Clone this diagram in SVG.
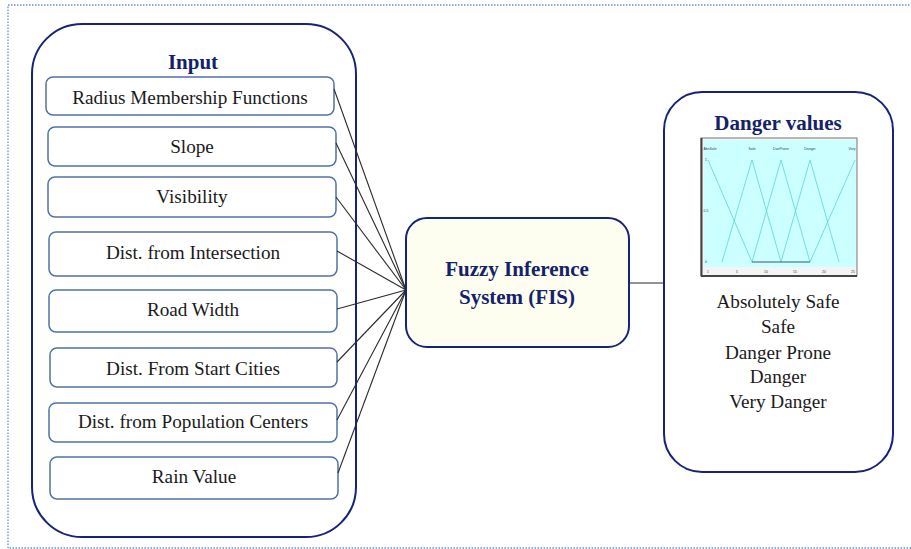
<svg xmlns="http://www.w3.org/2000/svg" width="911" height="549" viewBox="0 0 911 549">
<style>
.frame{fill:none;stroke:#6f8fcc;stroke-width:1.3;stroke-dasharray:1.5 1.5}
.cont{fill:#fff;stroke:#17237a;stroke-width:2}
.box{fill:#fff;stroke:#4f72a8;stroke-width:1.5}
.lbl{font-family:"Liberation Serif","Times New Roman",serif;font-size:19.2px;fill:#1a1a1a;text-anchor:middle}
.ttl{font-family:"Liberation Serif","Times New Roman",serif;font-size:21px;font-weight:bold;fill:#14216b;text-anchor:middle}
.conn{stroke:#2a2a2a;stroke-width:1.1;fill:none}
.mf{stroke:#5fd3d3;stroke-width:0.8;fill:none}
.tiny{font-family:"Liberation Sans",Arial,sans-serif;font-size:3.5px;fill:#444;text-anchor:middle}
</style>
<rect x="0" y="0" width="911" height="549" fill="#fff"/>
<rect class="frame" x="8" y="5" width="912" height="543"/>

<g id="input">
<rect class="cont" x="32" y="24" width="324" height="513" rx="50"/>
<text class="ttl" x="193" y="69">Input</text>
</g>

<g id="radius"><rect class="box" x="46" y="77" width="288" height="38" rx="7"/><text class="lbl" x="190" y="104">Radius Membership Functions</text></g>
<g id="slope"><rect class="box" x="48" y="127" width="288" height="39" rx="7"/><text class="lbl" x="192" y="153">Slope</text></g>
<g id="visibility"><rect class="box" x="48" y="177" width="288" height="40" rx="7"/><text class="lbl" x="192" y="203">Visibility</text></g>
<g id="intersection"><rect class="box" x="49" y="232" width="288" height="44" rx="7"/><text class="lbl" x="193" y="259">Dist. from Intersection</text></g>
<g id="roadwidth"><rect class="box" x="49" y="290" width="288" height="42" rx="7"/><text class="lbl" x="193" y="316">Road Width</text></g>
<g id="startcities"><rect class="box" x="50" y="348" width="287" height="39" rx="7"/><text class="lbl" x="193" y="375">Dist. From Start Cities</text></g>
<g id="population"><rect class="box" x="49" y="403" width="288" height="39" rx="7"/><text class="lbl" x="193" y="428">Dist. from Population Centers</text></g>
<g id="rain"><rect class="box" x="50" y="457" width="288" height="42" rx="7"/><text class="lbl" x="194" y="483">Rain Value</text></g>

<g id="connectors">
<line class="conn" x1="334" y1="89" x2="406" y2="290"/>
<line class="conn" x1="336" y1="143" x2="406" y2="290"/>
<line class="conn" x1="336" y1="197" x2="406" y2="290"/>
<line class="conn" x1="337" y1="251" x2="406" y2="290"/>
<line class="conn" x1="337" y1="309" x2="406" y2="290"/>
<line class="conn" x1="337" y1="362" x2="406" y2="290"/>
<line class="conn" x1="337" y1="420" x2="406" y2="290"/>
<line class="conn" x1="338" y1="473" x2="406" y2="290"/>
<line class="conn" x1="629" y1="283" x2="665" y2="283"/>
</g>

<g id="fis">
<rect x="406" y="218" width="223" height="129" rx="21" fill="#fefef0" stroke="#17237a" stroke-width="2"/>
<text class="ttl" x="517" y="276">Fuzzy Inference</text>
<text class="ttl" x="517" y="304">System (FIS)</text>
</g>

<g id="danger">
<rect class="cont" x="664" y="92" width="229" height="380" rx="38"/>
<text class="ttl" x="778" y="130">Danger values</text>
<g id="chart">
<rect x="701" y="138" width="156" height="138" fill="#f4f4f4" stroke="#777" stroke-width="1"/>
<rect x="704" y="140" width="152" height="127" fill="#ccffff"/>
<line x1="701.5" y1="138" x2="701.5" y2="276" stroke="#444" stroke-width="2"/>
<line x1="701" y1="276" x2="857" y2="276" stroke="#444" stroke-width="2"/>
<polyline class="mf" points="708,160 752,262"/>
<polyline class="mf" points="722,262 752,160 781,262"/>
<polyline class="mf" points="752,262 781,160 810,262"/>
<polyline class="mf" points="781,262 810,160 839,262"/>
<polyline class="mf" points="810,262 855,160"/>
<line x1="752" y1="262" x2="810" y2="262" stroke="#3a5a6a" stroke-width="1.2"/>
<text class="tiny" x="710" y="150">AbsSafe</text>
<text class="tiny" x="752" y="150">Safe</text>
<text class="tiny" x="781" y="150">DanProne</text>
<text class="tiny" x="810" y="150">Danger</text>
<text class="tiny" x="852" y="150">Very</text>
<text class="tiny" x="706" y="161">1</text>
<text class="tiny" x="706" y="212">0.5</text>
<text class="tiny" x="706" y="263">0</text>
<text class="tiny" x="708" y="273">1</text>
<text class="tiny" x="737" y="273">5</text>
<text class="tiny" x="766" y="273">10</text>
<text class="tiny" x="795" y="273">15</text>
<text class="tiny" x="824" y="273">20</text>
<text class="tiny" x="853" y="273">25</text>
</g>
<text class="lbl" x="778" y="308">Absolutely Safe</text>
<text class="lbl" x="778" y="333">Safe</text>
<text class="lbl" x="778" y="359">Danger Prone</text>
<text class="lbl" x="778" y="383">Danger</text>
<text class="lbl" x="778" y="408">Very Danger</text>
</g>
</svg>
